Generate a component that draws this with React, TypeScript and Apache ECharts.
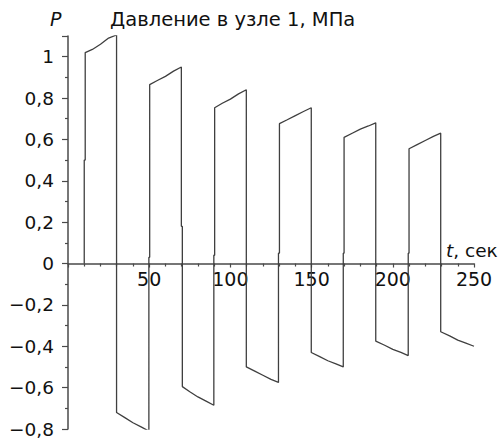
import React, { useEffect, useRef } from "react";
import * as echarts from "echarts";

// Time, s
const times: number[] = [
  10, 10, 10.6, 10.6, 15, 20, 25, 29.9,
  29.9, 35, 40, 45, 49.8, 49.8, 50.3, 50.3,
  55, 60, 65, 69.8, 69.8, 70.4, 70.4,
  75, 80, 85, 89.8, 89.8, 90.3, 90.3,
  95, 100, 105, 109.8, 109.8,
  115, 120, 125, 129.6, 129.6, 130.2, 130.2,
  135, 140, 145, 149.8, 149.8,
  155, 160, 165, 169.5, 169.5, 170, 170,
  175, 180, 185, 189.5, 189.5,
  195, 200, 205, 209.5, 209.5, 210, 210,
  215, 220, 225, 229.5, 229.5,
  235, 240, 245, 250,
];
// Pressure at node 1, MPa
const pressure: number[] = [
  0, 0.5, 0.5, 1.02, 1.035, 1.06, 1.09, 1.105,
  -0.72, -0.745, -0.77, -0.79, -0.81, 0.03, 0.03, 0.865,
  0.885, 0.905, 0.93, 0.95, 0.18, 0.18, -0.595,
  -0.62, -0.645, -0.665, -0.685, 0.04, 0.04, 0.753,
  0.775, 0.795, 0.82, 0.84, -0.5,
  -0.52, -0.54, -0.56, -0.575, 0.05, 0.05, 0.676,
  0.695, 0.715, 0.735, 0.753, -0.43,
  -0.45, -0.47, -0.485, -0.5, 0.05, 0.05, 0.61,
  0.63, 0.65, 0.665, 0.68, -0.375,
  -0.395, -0.415, -0.43, -0.445, 0.05, 0.05, 0.555,
  0.575, 0.595, 0.615, 0.63, -0.33,
  -0.35, -0.37, -0.385, -0.4,
];

const xTicks: number[] = [50, 100, 150, 200, 250];
const yTicks: string[] = ["−0,8", "−0,6", "−0,4", "−0,2", "0", "0,2", "0,4", "0,6", "0,8", "1"];

const FONT = "DejaVu Sans";
const AXIS = "#4a4a4a";

const Y_MIN = -0.8;
const Y_MAX = 1.1;
const GRID_TOP = 36;
const GRID_BOTTOM = 10;
const H = 439;

export default function App() {
  const ref = useRef<HTMLDivElement>(null);
  useEffect(() => {
    if (!ref.current) return;
    const chart = echarts.init(ref.current, undefined, { renderer: "svg" });
    const data = times.map((t, i) => [t, pressure[i]]);
    const gridH = H - GRID_TOP - GRID_BOTTOM;
    // distance from grid bottom to the zero line
    const zeroOffset = (gridH * (0 - Y_MIN)) / (Y_MAX - Y_MIN);
    chart.setOption({
      animation: false,
      backgroundColor: "#ffffff",
      grid: {
        left: 68,
        right: 26,
        top: GRID_TOP,
        bottom: GRID_BOTTOM,
        containLabel: false,
        outerBoundsMode: "none",
      },
      xAxis: {
        type: "value",
        min: 0,
        max: 250,
        interval: 50,
        position: "bottom",
        offset: -zeroOffset,
        axisLine: { onZero: false, lineStyle: { color: AXIS, width: 1.5 } },
        axisTick: { show: true, inside: false, length: 4, lineStyle: { color: AXIS, width: 1.2 } },
        minorTick: { show: true, splitNumber: 5, length: 3, lineStyle: { color: AXIS, width: 1.2 } },
        splitLine: { show: false },
        axisLabel: {
          margin: 6,
          color: "#111",
          fontFamily: FONT,
          fontSize: 19,
          formatter: (v: number) => {
            const i = xTicks.indexOf(Math.round(v));
            return i >= 0 ? String(xTicks[i]) : "";
          },
        },
      },
      yAxis: {
        type: "value",
        min: Y_MIN,
        max: Y_MAX,
        interval: 0.2,
        axisLine: { onZero: false, lineStyle: { color: AXIS, width: 1.5 } },
        axisTick: { show: true, inside: false, length: 6, lineStyle: { color: AXIS, width: 1.2 } },
        minorTick: { show: true, splitNumber: 2, length: 3, lineStyle: { color: AXIS, width: 1.2 } },
        splitLine: { show: false },
        axisLabel: {
          margin: 14,
          color: "#111",
          fontFamily: FONT,
          fontSize: 18.5,
          lineHeight: 14,
          formatter: (v: number) => {
            const idx = Math.round((v - Y_MIN) / 0.2);
            return idx >= 0 && idx < yTicks.length && Math.abs(v - (Y_MIN + idx * 0.2)) < 1e-6
              ? yTicks[idx]
              : "";
          },
        },
      },
      series: [
        {
          type: "line",
          data,
          showSymbol: false,
          symbol: "none",
          lineStyle: { color: "#3f3f3f", width: 1.3 },
        },
      ],
      graphic: [
        {
          type: "text",
          x: 50,
          y: 19,
          style: {
            text: "P",
            fontFamily: FONT,
            fontSize: 19,
            fontStyle: "italic",
            fill: "#111",
            textVerticalAlign: "middle",
          },
        },
        {
          type: "text",
          x: 110,
          y: 19,
          style: {
            text: "Давление в узле 1, МПа",
            fontFamily: FONT,
            fontSize: 19.5,
            fill: "#111",
            textVerticalAlign: "middle",
          },
        },
        {
          type: "text",
          x: 446,
          y: 250,
          style: {
            text: "{i|t}, сек",
            fontFamily: FONT,
            fontSize: 18.5,
            fill: "#111",
            textVerticalAlign: "middle",
            rich: {
              i: { fontFamily: FONT, fontSize: 18.5, fontStyle: "italic", fill: "#111" },
            },
          },
        },
      ],
    });
    return () => chart.dispose();
  }, []);
  return (
    <div
      ref={ref}
      style={{ position: "fixed", left: 0, top: 0, width: 500, height: 439, background: "#fff" }}
    />
  );
}
